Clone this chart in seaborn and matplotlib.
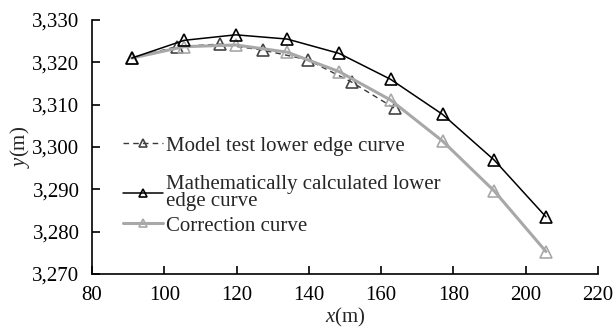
import matplotlib
matplotlib.use("Agg")
import matplotlib.pyplot as plt
from matplotlib.ticker import FuncFormatter, MultipleLocator
import seaborn as sns

# Model test lower edge curve
model_x = [91, 103.4, 115.4, 127.2, 139.7, 151.9, 163.8]
model_y = [3321.0, 3323.7, 3324.3, 3322.9, 3320.6, 3315.3, 3309.1]

# Mathematically calculated lower edge curve
calc_x = [91, 105.5, 119.8, 134.0, 148.4, 162.6, 177.0, 191.3, 205.6]
calc_y = [3321.0, 3325.2, 3326.5, 3325.5, 3322.1, 3316.0, 3307.7, 3296.9, 3283.5]

# Correction curve
corr_x = [91, 105.5, 119.8, 134.0, 148.4, 162.6, 177.0, 191.3, 205.6]
corr_y = [3321.0, 3323.7, 3324.1, 3322.4, 3317.8, 3311.1, 3301.4, 3289.6, 3275.3]

labels = ["Model test lower edge curve",
          "Mathematically calculated lower\nedge curve",
          "Correction curve"]

sns.set_style("ticks")
plt.rcParams["font.family"] = ["Liberation Serif", "DejaVu Serif"]
plt.rcParams["mathtext.fontset"] = "custom"
plt.rcParams["mathtext.rm"] = "Liberation Serif"
plt.rcParams["mathtext.it"] = "Liberation Serif:italic"

fig = plt.figure(figsize=(6.16, 3.31), dpi=100)
ax = fig.add_axes([92 / 616, 1 - 274 / 331, 506 / 616, 254 / 331])

sns.lineplot(x=model_x, y=model_y, ax=ax, label=labels[0], color="#3a3a3a",
             linestyle=(0, (4, 3)), linewidth=1.0, marker="^", markersize=8,
             markerfacecolor="none", markeredgecolor="#444444",
             markeredgewidth=1.2, sort=False)
sns.lineplot(x=corr_x, y=corr_y, ax=ax, label=labels[2], color="#a8a8a8",
             linewidth=2.2, marker="^", markersize=8,
             markerfacecolor="none", markeredgecolor="#a8a8a8",
             markeredgewidth=1.2, sort=False)
sns.lineplot(x=calc_x, y=calc_y, ax=ax, label=labels[1], color="black",
             linewidth=1.1, marker="^", markersize=8,
             markerfacecolor="none", markeredgecolor="black",
             markeredgewidth=1.2, sort=False)

ax.set_xlim(80, 220)
ax.set_ylim(3270, 3330)
ax.xaxis.set_major_locator(MultipleLocator(20))
ax.yaxis.set_major_locator(MultipleLocator(10))
ax.yaxis.set_major_formatter(FuncFormatter(lambda v, p: f"{int(round(v)):,}"))

for side in ("top", "right"):
    ax.spines[side].set_visible(False)
for side in ("left", "bottom"):
    ax.spines[side].set_linewidth(1.2)
    ax.spines[side].set_color("black")
ax.tick_params(direction="in", length=6, width=1.2, labelsize=15,
               colors="black")
ax.tick_params(axis="x", pad=9)
ax.tick_params(axis="y", pad=9)

ax.set_xlabel("$x$(m)", fontsize=15, labelpad=0)
ax.set_ylabel("$y$(m)", fontsize=15, labelpad=0)

# One legend box per entry so the vertical spacing can be set individually
handles, labs = ax.get_legend_handles_labels()
anchors_y = [0.505, 0.318, 0.19]
legends = []
for lab, ay in zip(labels, anchors_y):
    h = handles[labs.index(lab)]
    leg = ax.legend([h], [lab], loc="center left",
                    bbox_to_anchor=(0.062, ay), frameon=False,
                    fontsize=15, handlelength=1.9, handletextpad=0.15,
                    borderpad=0, borderaxespad=0, markerscale=0.75)
    for t in leg.get_texts():
        t.set_linespacing(0.82)
    legends.append(leg)
for leg in legends[:-1]:
    ax.add_artist(leg)

fig.savefig("out.png", dpi=100)
